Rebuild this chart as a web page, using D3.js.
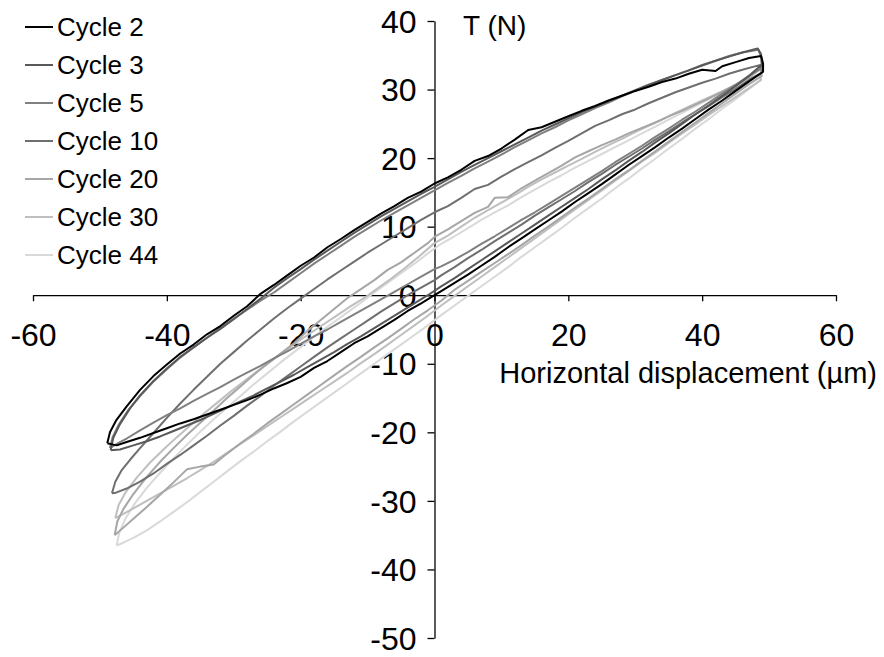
<!DOCTYPE html>
<html>
<head>
<meta charset="utf-8">
<script src="https://cdn.jsdelivr.net/npm/d3@7"></script>
<style>
  html, body { margin: 0; padding: 0; background: #fff; }
  svg { display: block; }
  text { font-family: "Liberation Sans", Arial, sans-serif; fill: #000; }
</style>
</head>
<body>
<svg id="chart" width="884" height="657"></svg>
<script>
// Hysteresis loops: tangential force T (N) against horizontal displacement (µm)
const cycleNames = ["Cycle 2", "Cycle 3", "Cycle 5", "Cycle 10", "Cycle 20", "Cycle 30", "Cycle 44"];
const xTicks = [-60, -40, -20, 0, 20, 40, 60];
const yTicks = [-50, -40, -30, -20, -10, 0, 10, 20, 30, 40];
const xTitle = "Horizontal displacement (µm)";
const yTitle = "T (N)";

// Each loop: upper branch left tip -> right tip, then lower branch back to left tip
const cycle2 = [
  [-48.9,-21.6],[-48.5,-20.0],[-47.6,-18.3],[-46,-16.2],[-44,-13.8],[-42,-11.8],[-40,-10.1],[-38,-8.5],[-36,-7.2],
  [-34,-5.7],[-32,-4.5],[-30,-3.0],[-28,-1.6],[-26,0.2],[-24,1.5],[-22,2.9],[-20,4.3],[-18,5.5],[-16,7.0],[-14,8.2],
  [-12,9.5],[-10,10.7],[-8,11.9],[-6,13.0],[-4,14.2],[-2,15.1],[0,16.3],[2,17.2],[4,18.3],[6,19.6],[8,20.3],[10,21.4],
  [12,22.7],[14,24.1],[16,24.5],[18,25.3],[20,26.1],[22,26.9],[24,27.6],[26,28.4],[28,29.1],[30,29.8],[32,30.4],
  [34,31.1],[36,31.6],[38,32.3],[40,32.9],[42,32.7],[43,33.4],[45,34.0],[47,34.6],[48.8,34.9],[49.1,33.8],[49.1,32.6],
  [47,31.2],[45,29.8],[43,28.4],[41,27.1],[39,25.7],[37,24.3],[35,23.0],[33,21.6],[31,20.3],[29,19.0],[27,17.6],
  [25,16.2],[23,14.9],[21,13.6],[19,12.2],[17,10.9],[15,9.6],[13,8.3],[11,7.0],[9,5.6],[7,4.3],[5,3.0],[3,1.8],[1,0.6],
  [0,0],[-2,-1.2],[-4,-2.3],[-6,-3.6],[-8,-4.8],[-10,-6.0],[-12,-7.0],[-14,-8.3],[-16,-9.6],[-18,-10.6],[-20,-11.9],
  [-22,-12.8],[-24,-13.6],[-26,-14.5],[-28,-15.3],[-30,-16.0],[-32,-16.7],[-34,-17.4],[-36,-18.1],[-38,-18.7],
  [-40,-19.4],[-42,-20.1],[-44,-20.8],[-46,-21.4],[-47.5,-21.9],[-48.9,-21.6]
];
const cycle3 = [
  [-48.4,-22.6],[-48.0,-20.8],[-47,-18.8],[-45.5,-16.5],[-44,-14.6],[-42,-12.5],[-40,-10.7],[-38,-9.0],[-36,-7.6],
  [-34,-6.2],[-32,-4.9],[-30,-3.5],[-28,-2.0],[-26,-0.5],[-24,1.1],[-22,2.5],[-20,3.8],[-18,5.2],[-16,6.5],[-14,7.8],
  [-12,9.1],[-10,10.3],[-8,11.5],[-6,12.6],[-4,13.7],[-2,14.8],[0,15.8],[2,16.9],[4,18.0],[6,19.0],[8,20.0],[10,21.0],
  [12,22.0],[14,23.0],[16,24.0],[18,24.9],[20,25.8],[22,26.7],[24,27.5],[26,28.3],[28,29.1],[30,29.9],[32,30.7],
  [34,31.4],[36,32.1],[38,32.8],[40,33.5],[42,34.2],[44,34.8],[46,35.4],[48.3,36.0],[48.8,35.2],[48.9,33.6],
  [47,32.0],[45,30.5],[43,29.1],[41,27.7],[39,26.4],[37,25.0],[35,23.6],[33,22.3],[31,20.9],[29,19.6],[27,18.2],
  [25,16.9],[23,15.5],[21,14.2],[19,12.9],[17,11.6],[15,10.3],[13,9.0],[11,7.7],[9,6.4],[7,5.1],[5,3.8],[3,2.5],
  [1,1.3],[-1,0.0],[-3,-1.2],[-5,-2.4],[-7,-3.6],[-9,-4.8],[-11,-6.0],[-13,-7.1],[-15,-8.3],[-17,-9.4],[-19,-10.5],
  [-21,-11.6],[-23,-12.6],[-25,-13.6],[-27,-14.6],[-29,-15.5],[-31,-16.4],[-33,-17.3],[-35,-18.2],[-37,-19.0],
  [-39,-19.8],[-41,-20.6],[-43,-21.3],[-45,-21.9],[-47,-22.5],[-48.4,-22.6]
];
const cycle5 = [
  [-48.5,-22.3],[-48.1,-20.7],[-47.2,-18.9],[-45.8,-16.8],[-44,-14.7],[-42,-12.6],[-40,-10.8],[-38,-9.1],[-36,-7.6],
  [-34,-6.2],[-32,-4.8],[-30,-3.4],[-28,-2.1],[-26,-0.8],[-24,0.4],[-22,1.8],[-20,3.2],[-18,4.6],[-16,5.9],[-14,7.2],
  [-12,8.5],[-10,9.7],[-8,10.9],[-6,12.0],[-4,13.1],[-2,14.2],[0,15.3],[2,16.4],[4,17.4],[6,18.5],[8,19.5],[10,20.5],
  [12,21.6],[14,22.6],[16,23.6],[18,24.5],[20,25.5],[22,26.4],[24,27.3],[26,28.1],[28,29.0],[30,29.8],[32,30.6],
  [34,31.4],[36,32.1],[38,32.8],[40,33.6],[42,34.2],[44,34.9],[46,35.4],[48.4,35.8],[48.9,34.6],[49,33.2],
  [47,32.0],[45,30.7],[43,29.4],[41,28.1],[39,26.8],[37,25.6],[35,24.3],[33,23.1],[31,21.8],[29,20.6],[27,19.4],
  [25,18.1],[23,16.9],[21,15.7],[19,14.5],[17,13.3],[15,12.1],[13,11.0],[11,9.8],[9,8.6],[7,7.5],[5,6.3],[3,5.2],
  [1,4.2],[0,3.8],[-2,2.7],[-4,1.6],[-6,0.5],[-8,-0.6],[-10,-1.7],[-12,-2.8],[-14,-3.9],[-16,-5.0],[-18,-6.0],
  [-20,-7.1],[-22,-8.2],[-24,-9.2],[-26,-10.3],[-28,-11.3],[-30,-12.3],[-32,-13.4],[-34,-14.4],[-36,-15.4],
  [-38,-16.5],[-40,-17.5],[-42,-18.6],[-44,-19.7],[-46,-20.9],[-47.5,-21.7],[-48.5,-22.3]
];
const cycle10 = [
  [-48.2,-28.9],[-47.7,-27.2],[-46.8,-25.6],[-45.5,-24.0],[-44,-22.3],[-42,-20.1],[-40,-17.9],[-38,-15.8],[-36,-13.8],
  [-34,-11.9],[-32,-10.0],[-30,-8.3],[-28,-6.6],[-26,-5.0],[-24,-3.4],[-22,-1.9],[-20,-0.5],[-18,0.9],[-16,2.3],
  [-14,3.6],[-12,4.9],[-10,6.2],[-8,7.4],[-6,8.6],[-4,9.8],[-2,11.0],[0,12.1],[2,13.0],[4,14.2],[6,15.5],[8,16.1],
  [10,17.3],[12,18.4],[14,19.4],[16,20.4],[18,21.5],[20,22.5],[22,23.6],[24,24.7],[26,25.5],[28,26.4],[30,27.1],
  [32,28.0],[34,28.8],[36,29.6],[38,30.3],[40,31.0],[42,31.6],[44,32.3],[46,32.9],[48.7,33.6],[49,32.5],
  [47,31.4],[45,30.1],[43,28.9],[41,27.6],[39,26.4],[37,25.2],[35,23.9],[33,22.7],[31,21.4],[29,20.2],[27,19.0],
  [25,17.7],[23,16.5],[21,15.2],[19,14.0],[17,12.8],[15,11.6],[13,10.3],[11,9.1],[9,7.9],[7,6.6],[5,5.4],[3,4.1],
  [1,2.9],[0,2.2],[-2,1.1],[-4,0.0],[-6,-1.2],[-8,-2.4],[-10,-3.7],[-12,-5.0],[-14,-6.3],[-16,-7.6],[-18,-9.0],
  [-20,-10.4],[-22,-11.8],[-24,-13.2],[-26,-14.7],[-28,-16.1],[-30,-17.6],[-32,-19.0],[-34,-20.5],[-36,-21.9],
  [-38,-23.3],[-40,-24.6],[-42,-26.0],[-44,-27.2],[-46,-28.2],[-47.6,-28.8],[-48.2,-28.9]
];
const cycle20 = [
  [-47.8,-35.0],[-47.4,-33.0],[-46.5,-31.2],[-45,-29.0],[-43,-26.5],[-41,-24.3],[-39,-22.3],[-37,-20.4],[-35,-18.6],
  [-33,-16.8],[-31,-15.0],[-29,-13.3],[-27,-11.6],[-25,-10.0],[-23,-8.5],[-21,-7.0],[-19,-5.2],[-17,-3.6],[-15,-2.0],
  [-13,-0.4],[-11,0.9],[-9,2.2],[-7,3.7],[-5,4.8],[-3,6.2],[-1,7.6],[0,8.5],[2,9.6],[4,10.8],[6,12.0],[8,12.9],
  [9,14.2],[11,14.3],[13,15.6],[15,16.7],[17,17.8],[19,18.9],[21,20.1],[23,21.0],[25,21.9],[27,22.7],[29,23.6],
  [31,24.4],[33,25.2],[35,26.1],[37,26.9],[39,27.8],[41,28.7],[43,29.7],[45,30.7],[47,31.8],[48.7,33.0],[48.9,32.0],
  [47,30.8],[45,29.4],[43,28.0],[41,26.6],[39,25.2],[37,23.8],[35,22.4],[33,21.0],[31,19.6],[29,18.2],[27,16.9],
  [25,15.5],[23,14.1],[21,12.8],[19,11.4],[17,10.0],[15,8.7],[13,7.3],[11,6.0],[9,4.7],[7,3.4],[5,2.1],[3,0.8],
  [1,-0.8],[-1,-2.2],[-3,-3.5],[-5,-4.9],[-7,-6.3],[-9,-7.6],[-11,-9.0],[-13,-10.3],[-15,-11.7],[-17,-13.1],
  [-19,-14.5],[-21,-15.9],[-23,-17.3],[-25,-18.7],[-27,-20.2],[-29,-21.6],[-31,-23.1],[-33,-24.7],[-35,-25.0],
  [-37,-25.4],[-39,-27.3],[-41,-29.1],[-43,-30.9],[-45,-32.6],[-46.5,-33.9],[-47.8,-35.0]
];
const cycle30 = [
  [-47.7,-32.5],[-47.2,-30.6],[-46.2,-28.8],[-44.5,-26.6],[-42.5,-24.4],[-40.5,-22.5],[-38.5,-20.7],[-36.5,-19.0],
  [-34.5,-17.3],[-32.5,-15.7],[-30.5,-14.1],[-28.5,-12.6],[-26.5,-11.1],[-24.5,-9.7],[-22.5,-8.2],[-20.5,-6.8],
  [-18.5,-5.5],[-16.5,-4.2],[-14.5,-2.9],[-12.5,-1.6],[-10.5,-0.4],[-8.5,1.0],[-6.5,2.4],[-4.5,3.9],[-2.5,5.5],
  [0,7.6],[2,8.7],[4,10.0],[6,11.3],[8,12.4],[10,13.5],[12,14.6],[14,15.8],[16,16.9],[18,17.9],[20,18.9],[22,19.9],
  [24,20.9],[26,21.9],[28,22.8],[30,23.8],[32,24.7],[34,25.6],[36,26.6],[38,27.5],[40,28.4],[42,29.3],[44,30.2],
  [46,31.1],[48.6,32.2],[48.8,31.4],
  [47,30.2],[45,28.9],[43,27.6],[41,26.3],[39,24.9],[37,23.6],[35,22.2],[33,20.8],[31,19.5],[29,18.1],[27,16.7],
  [25,15.3],[23,13.9],[21,12.5],[19,11.1],[17,9.7],[15,8.3],[13,6.9],[11,5.5],[9,4.1],[7,2.7],[5,1.3],[3,-0.1],
  [1,-1.5],[-1,-3.0],[-3,-4.4],[-5,-5.8],[-7,-7.2],[-9,-8.6],[-11,-9.9],[-13,-11.3],[-15,-12.6],[-17,-13.9],
  [-19,-15.2],[-21,-16.5],[-23,-17.8],[-25,-19.1],[-27,-20.4],[-29,-21.7],[-31,-23.0],[-33,-24.3],[-35,-25.5],
  [-37,-26.7],[-39,-27.8],[-41,-28.9],[-43,-30.0],[-45,-31.1],[-46.5,-31.9],[-47.7,-32.5]
];
const cycle44 = [
  [-47.5,-36.5],[-47.1,-34.6],[-46.2,-32.6],[-44.8,-30.4],[-43,-28.1],[-41,-25.9],[-39,-23.8],[-37,-21.8],[-35,-19.9],
  [-33,-18.1],[-31,-16.4],[-29,-14.7],[-27,-13.0],[-25,-11.4],[-23,-9.8],[-21,-8.3],[-19,-6.8],[-17,-5.3],[-15,-3.9],
  [-13,-2.5],[-11,-1.1],[-9,0.4],[-7,1.8],[-5,3.2],[-3,4.6],[-1,6.1],[1,7.5],[3,8.6],[5,9.8],[7,11.0],[9,12.1],
  [11,13.1],[13,14.3],[15,15.4],[17,16.5],[19,17.5],[21,18.6],[23,19.6],[25,20.6],[27,21.6],[29,22.6],[31,23.6],
  [33,24.6],[35,25.6],[37,26.6],[39,27.6],[41,28.6],[43,29.6],[45,30.6],[47,31.6],[48.6,32.3],[48.7,31.4],
  [47,30.1],[45,28.6],[43,27.2],[41,25.7],[39,24.3],[37,22.8],[35,21.4],[33,19.9],[31,18.5],[29,17.0],[27,15.6],
  [25,14.1],[23,12.7],[21,11.3],[19,9.8],[17,8.4],[15,7.0],[13,5.6],[11,4.1],[9,2.7],[7,1.3],[5,-0.1],[3,-1.5],
  [1,-2.9],[-1,-4.4],[-3,-5.8],[-5,-7.2],[-7,-8.6],[-9,-10.0],[-11,-11.4],[-13,-12.8],[-15,-14.2],[-17,-15.6],
  [-19,-17.0],[-21,-18.4],[-23,-19.9],[-25,-21.3],[-27,-22.8],[-29,-24.2],[-31,-25.7],[-33,-27.2],[-35,-28.7],
  [-37,-30.2],[-39,-31.6],[-41,-33.0],[-43,-34.3],[-45,-35.4],[-46.5,-36.1],[-47.5,-36.5]
];
const cycleLoops = [cycle2, cycle3, cycle5, cycle10, cycle20, cycle30, cycle44];

// Styling
const lineColors = ["#000000", "#595959", "#808080", "#6f6f6f", "#a6a6a6", "#bfbfbf", "#d9d9d9"];

const svg = d3.select("#chart");
const x = d3.scaleLinear().domain([-60, 60]).range([33, 836]);
const y = d3.scaleLinear().domain([-50, 40]).range([638, 21]);

// Axes crossing at the origin; plain hyphen for negative labels
const fmt = d => String(d);
const xAxis = d3.axisBottom(x).tickValues(xTicks).tickSize(6).tickSizeOuter(0).tickFormat(fmt);
const yAxis = d3.axisLeft(y).tickValues(yTicks).tickSize(7).tickSizeOuter(0).tickFormat(fmt);

const gx = svg.append("g").attr("transform", `translate(0,${y(0)})`).call(xAxis);
const gy = svg.append("g").attr("transform", `translate(${x(0)},0)`).call(yAxis);

[gx, gy].forEach(g => {
  g.select(".domain").attr("stroke", "#000").attr("stroke-width", 1.3);
  g.selectAll(".tick line").attr("stroke", "#000").attr("stroke-width", 1.3);
  g.selectAll(".tick text")
    .style("font-family", '"Liberation Sans", Arial, sans-serif')
    .style("font-size", "32px")
    .attr("fill", "#000");
});
gx.selectAll(".tick text").attr("y", 28).attr("dy", "0.71em");
gy.selectAll(".tick text").attr("x", -18).attr("dy", "0.35em");

// Loops (lightest first so darker cycles sit on top)
const line = d3.line().x(d => x(d[0])).y(d => y(d[1]));
const order = d3.range(cycleLoops.length).reverse();
svg.append("g")
  .selectAll("path")
  .data(order)
  .join("path")
  .attr("d", i => line(cycleLoops[i]))
  .attr("fill", "none")
  .attr("stroke", i => lineColors[i])
  .attr("stroke-width", 2)
  .attr("stroke-linejoin", "round");

// Axis titles
svg.append("text")
  .attr("x", 877).attr("y", 383)
  .attr("text-anchor", "end")
  .style("font-size", "29px")
  .text(xTitle);
svg.append("text")
  .attr("x", 463).attr("y", 35)
  .style("font-size", "28px")
  .text(yTitle);

// Legend
const legend = svg.append("g");
const rows = legend.selectAll("g")
  .data(cycleNames)
  .join("g")
  .attr("transform", (d, i) => `translate(25,${27 + i * 38})`);
rows.append("line")
  .attr("x1", 0).attr("x2", 28)
  .attr("stroke", (d, i) => lineColors[i])
  .attr("stroke-width", 2);
rows.append("text")
  .attr("x", 32).attr("dy", "0.35em")
  .style("font-size", "26px")
  .text(d => d);
</script>
</body>
</html>
